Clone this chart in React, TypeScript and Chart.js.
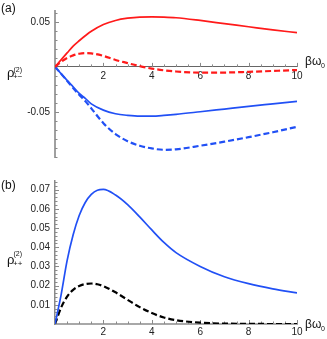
import React, { useEffect, useRef } from "react";
import { Chart, registerables } from "chart.js";
Chart.register(...registerables);

// ---------- data ----------
const xsA = [0, 0.25, 0.5, 0.75, 1, 1.25, 1.5, 2, 2.5, 3, 3.5, 4, 4.5, 5, 6, 7, 8, 9, 10];
const redSolidA = [0, 0.0078, 0.0155, 0.023, 0.029, 0.0345, 0.0395, 0.047, 0.0515, 0.054, 0.0553, 0.0555, 0.0552, 0.0545, 0.0515, 0.048, 0.0445, 0.041, 0.038];
const redDashedA = [0, 0.0055, 0.0098, 0.0128, 0.0146, 0.0153, 0.015, 0.0122, 0.0077, 0.0042, 0.0008, -0.0019, -0.0038, -0.0051, -0.0064, -0.0063, -0.0055, -0.0045, -0.0035];
const blueSolidA = [0, -0.0075, -0.015, -0.022, -0.0295, -0.035, -0.041, -0.048, -0.052, -0.0538, -0.0547, -0.0546, -0.0538, -0.0527, -0.0498, -0.0468, -0.0438, -0.041, -0.0382];
const blueDashedA = [0, -0.0075, -0.0155, -0.0235, -0.031, -0.038, -0.046, -0.0625, -0.0745, -0.0825, -0.0875, -0.0905, -0.092, -0.0915, -0.0875, -0.083, -0.078, -0.0725, -0.0665];

const xsB = [0, 0.25, 0.5, 0.75, 1, 1.25, 1.5, 1.75, 2, 2.5, 3, 3.5, 4, 4.5, 5, 6, 7, 8, 9, 10];
const blueSolidB = [0, 0.015, 0.033, 0.0465, 0.0565, 0.0633, 0.0675, 0.0697, 0.0701, 0.0672, 0.0622, 0.0558, 0.049, 0.0425, 0.0372, 0.03, 0.0246, 0.021, 0.0183, 0.0162];
const blackDashedB = [0, 0.0085, 0.0143, 0.0178, 0.0198, 0.0208, 0.0211, 0.0207, 0.0197, 0.0165, 0.0126, 0.0088, 0.0057, 0.0034, 0.002, 0.0007, 0.0002, 0.0001, 0, 0];

const xTickValues = [2, 4, 6, 8, 10];
const xTickLabels = ["2", "4", "6", "8", "10"];
const yTickValuesA = [-0.05, 0.05];
const yTickLabelsA = ["-0.05", "0.05"];
const yTickValuesB = [0.01, 0.02, 0.03, 0.04, 0.05, 0.06, 0.07];
const yTickLabelsB = ["0.01", "0.02", "0.03", "0.04", "0.05", "0.06", "0.07"];

const FONT = "'Liberation Sans', Arial, sans-serif";
const RED = "#ff1a1a";
const BLUE = "#2150f5";

function pts(xs: number[], ys: number[]) {
  return xs.map((x, i) => ({ x, y: ys[i] }));
}

function range(a: number, b: number, step: number) {
  const out: number[] = [];
  const n = Math.round((b - a) / step);
  for (let i = 0; i <= n; i++) out.push(+(a + i * step).toFixed(6));
  return out;
}

type Txt = { t: string; x: number; y: number; size: number };

function makeDecor(opts: {
  xMinor: number[];
  yMinor: number[];
  yMajor: number[];
  texts: Txt[];
}) {
  return {
    id: "decor",
    beforeDatasetsDraw(chart: any) {
      const ctx = chart.ctx as CanvasRenderingContext2D;
      const xs = chart.scales.x;
      const ys = chart.scales.y;
      const axisY = ys.getPixelForValue(0);
      const axisX = chart.chartArea.left;
      ctx.save();
      ctx.strokeStyle = "#8a8a8a";
      ctx.lineWidth = 1;
      ctx.beginPath();
      for (const v of opts.xMinor) {
        const px = Math.round(xs.getPixelForValue(v)) + 0.5;
        const len = xTickValues.includes(v) ? 4 : 2.5;
        ctx.moveTo(px, axisY);
        ctx.lineTo(px, axisY - len);
      }
      for (const v of opts.yMinor) {
        const py = Math.round(ys.getPixelForValue(v)) + 0.5;
        const isMajor = opts.yMajor.some((m) => Math.abs(m - v) < 1e-9);
        const len = isMajor ? 4 : 2.5;
        ctx.moveTo(axisX, py);
        ctx.lineTo(axisX + len, py);
      }
      ctx.stroke();
      ctx.restore();
    },
    afterDraw(chart: any) {
      const ctx = chart.ctx as CanvasRenderingContext2D;
      ctx.save();
      ctx.fillStyle = "#111";
      ctx.textBaseline = "alphabetic";
      ctx.textAlign = "left";
      for (const tx of opts.texts) {
        ctx.font = `${tx.size}px ${FONT}`;
        ctx.fillText(tx.t, tx.x, tx.y);
      }
      ctx.restore();
    },
  };
}

function baseOptions(p: {
  yMin: number;
  yMax: number;
  yTicks: number[];
  yLabels: string[];
  padding: any;
  yBorder: { color: string; width: number };
  xBorder: { color: string; width: number };
  xPad: number;
}) {
  return {
    responsive: false,
    animation: false,
    events: [],
    layout: { padding: p.padding },
    plugins: { legend: { display: false }, tooltip: { enabled: false } },
    scales: {
      x: {
        type: "linear",
        min: 0,
        max: 10,
        position: { y: 0 },
        grid: { display: false, drawTicks: false },
        border: { display: true, color: p.xBorder.color, width: p.xBorder.width },
        afterBuildTicks: (s: any) => {
          s.ticks = xTickValues.map((v) => ({ value: v }));
        },
        ticks: {
          padding: p.xPad,
          maxRotation: 0,
          autoSkip: false,
          color: "#222",
          font: { family: FONT, size: 10 },
          callback: (v: number) => {
            const i = xTickValues.indexOf(v);
            return i >= 0 ? xTickLabels[i] : "";
          },
        },
      },
      y: {
        type: "linear",
        min: p.yMin,
        max: p.yMax,
        position: "left",
        grid: { display: false, drawTicks: false },
        border: { display: true, color: p.yBorder.color, width: p.yBorder.width },
        afterFit: (s: any) => {
          s.width = 55;
        },
        afterBuildTicks: (s: any) => {
          s.ticks = p.yTicks.map((v) => ({ value: v }));
        },
        ticks: {
          padding: 5,
          autoSkip: false,
          color: "#222",
          font: { family: FONT, size: 10 },
          callback: (v: number) => {
            const i = p.yTicks.findIndex((t) => Math.abs(t - v) < 1e-9);
            return i >= 0 ? p.yLabels[i] : "";
          },
        },
      },
    },
  } as any;
}

function lineDs(data: any[], color: string, dashed: boolean) {
  return {
    data,
    borderColor: color,
    borderWidth: dashed ? 2.2 : 1.7,
    borderDash: dashed ? [6, 3] : [],
    pointRadius: 0,
    fill: false,
    cubicInterpolationMode: "monotone",
  };
}

export default function App() {
  const refA = useRef<HTMLCanvasElement>(null);
  const refB = useRef<HTMLCanvasElement>(null);

  useEffect(() => {
    const chartA = new Chart(refA.current!, {
      type: "line",
      data: {
        datasets: [
          lineDs(pts(xsA, redSolidA), RED, false),
          lineDs(pts(xsA, redDashedA), RED, true),
          lineDs(pts(xsA, blueSolidA), BLUE, false),
          lineDs(pts(xsA, blueDashedA), BLUE, true),
        ] as any,
      },
      options: baseOptions({
        yMin: -0.1,
        yMax: 0.062,
        yTicks: yTickValuesA,
        yLabels: yTickLabelsA,
        padding: { left: 0, right: 30, top: 3, bottom: 13 },
        yBorder: { color: "#a0a0a0", width: 2 },
        xBorder: { color: "#666", width: 1 },
        xPad: 3,
      }),
      plugins: [
        makeDecor({
          xMinor: range(0.5, 10, 0.5),
          yMinor: range(-0.1, 0.06, 0.01),
          yMajor: yTickValuesA,
          texts: [
            { t: "(a)", x: 1, y: 12, size: 12 },
            { t: "ρ", x: 7, y: 77, size: 13 },
            { t: "(2)", x: 13.5, y: 71.5, size: 7 },
            { t: "+−", x: 13, y: 79, size: 8 },
            { t: "βω", x: 305, y: 65, size: 12 },
            { t: "0", x: 321, y: 68, size: 7 },
          ],
        }),
      ],
    });

    const chartB = new Chart(refB.current!, {
      type: "line",
      data: {
        datasets: [
          lineDs(pts(xsB, blueSolidB), BLUE, false),
          lineDs(pts(xsB, blackDashedB), "#000", true),
        ] as any,
      },
      options: baseOptions({
        yMin: 0,
        yMax: 0.0745,
        yTicks: yTickValuesB,
        yLabels: yTickLabelsB,
        padding: { left: 0, right: 30, top: 5, bottom: 15 },
        yBorder: { color: "#8a8a8a", width: 1.5 },
        xBorder: { color: "#a8a8a8", width: 2 },
        xPad: 2,
      }),
      plugins: [
        makeDecor({
          xMinor: range(0.5, 10, 0.5),
          yMinor: range(0.002, 0.074, 0.002),
          yMajor: yTickValuesB,
          texts: [
            { t: "(b)", x: 1, y: 18.5, size: 12 },
            { t: "ρ", x: 7, y: 93.5, size: 13 },
            { t: "(2)", x: 13.5, y: 86, size: 7 },
            { t: "++", x: 13, y: 95.5, size: 8 },
            { t: "βω", x: 305, y: 158, size: 12 },
            { t: "0", x: 321, y: 161, size: 7 },
          ],
        }),
      ],
    });

    return () => {
      chartA.destroy();
      chartB.destroy();
    };
  }, []);

  return (
    <div style={{ position: "fixed", left: 0, top: 0, width: 327, height: 339, background: "#fff" }}>
      <canvas ref={refA} width={327} height={170} style={{ position: "absolute", left: 0, top: 0 }} />
      <canvas ref={refB} width={327} height={169} style={{ position: "absolute", left: 0, top: 170 }} />
    </div>
  );
}
